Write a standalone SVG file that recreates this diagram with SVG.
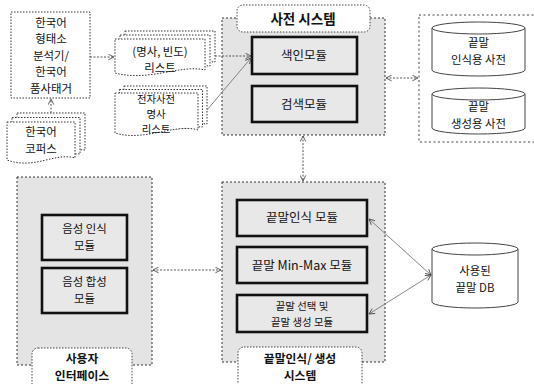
<svg xmlns="http://www.w3.org/2000/svg" width="534" height="384" viewBox="0 0 534 384">
<defs>
<style>
text{font-family:"Noto Sans CJK KR","Noto Sans",sans-serif;font-size:12.5px;fill:#111;text-anchor:middle}
.s{font-size:11.4px}
.xs{font-size:10.4px}
.b{font-weight:bold;font-size:13.5px}
.bs{font-weight:bold;font-size:11.8px}
.dot{fill:#fff;stroke:#333;stroke-width:1;stroke-dasharray:1.5 1.5}
.cont{fill:#e4e4e4;stroke:#333;stroke-width:1;stroke-dasharray:2 2}
.title{fill:#fff;stroke:#444;stroke-width:1;stroke-dasharray:1.5 1.5}
.mod{fill:#e8e8e8;stroke:#111;stroke-width:2.6}
.cyl{fill:#fff;stroke:#444;stroke-width:1}
.ln{fill:none;stroke:#555;stroke-width:1;stroke-dasharray:2 1.5}
.sl{fill:none;stroke:#777;stroke-width:0.9}
</style>
<marker id="ah" viewBox="0 0 10 10" refX="9" refY="5" markerWidth="7" markerHeight="7" orient="auto-start-reverse" markerUnits="userSpaceOnUse">
<path d="M1,1 L9,5 L1,9" fill="none" stroke="#444" stroke-width="1.2"/>
</marker>
</defs>
<rect width="534" height="384" fill="#fff"/>

<g id="analyzer">
<rect x="11" y="12" width="79" height="86" class="dot"/>
<text x="51" y="26.5" class="s">한국어</text>
<text x="51" y="43" class="s">형태소</text>
<text x="51" y="59.5" class="s">분석기/</text>
<text x="51" y="76" class="s">한국어</text>
<text x="51" y="92.5" class="s">품사태거</text>
</g>

<g id="corpus">
<path d="M17,113 H85 V150 C78,149 79,152 17,152 Z" class="dot"/>
<path d="M12,117.5 H80 V154 C73,153 74,157 12,157 Z" class="dot"/>
<path d="M7,122 H75 V158 C55,152 35,170 7,160 Z" class="dot"/>
<text x="41" y="136" class="s">한국어</text>
<text x="41" y="153" class="s">코퍼스</text>
</g>

<g id="freqlist">
<path d="M125,31 H215 V62 C208,61 209,64 125,64 Z" class="dot"/>
<path d="M120,35 H210 V66 C203,65 204,69 120,69 Z" class="dot"/>
<path d="M115,39 H205 V70 C180,64 150,82 115,73 Z" class="dot"/>
<text x="160" y="55.5" class="s">(명사, 빈도)</text>
<text x="160" y="72" class="s">리스트</text>
</g>

<g id="nounlist">
<path d="M124,86 H207 V124 C200,123 201,126 124,126 Z" class="dot"/>
<path d="M119.5,89.5 H202.5 V127 C195,126 196,130 119.5,130 Z" class="dot"/>
<path d="M115,93 H198 V130 C175,123 145,142 115,133 Z" class="dot"/>
<text x="156" y="102.5" class="xs">전자사전</text>
<text x="156" y="117.8" class="xs">명사</text>
<text x="156" y="133" class="xs">리스트</text>
</g>

<g id="dict-system">
<rect x="222" y="18" width="163" height="117" class="cont"/>
<rect x="237" y="5" width="133" height="27" rx="6" class="title"/>
<text x="303" y="24" class="b">사전 시스템</text>
<g id="index-module">
<rect x="252" y="37" width="105" height="37" class="mod"/>
<text x="304" y="60">색인모듈</text>
</g>
<g id="search-module">
<rect x="252" y="86" width="105" height="36" class="mod"/>
<text x="304" y="109">검색모듈</text>
</g>
</g>

<g id="dictionaries">
<rect x="419" y="15" width="118" height="127" fill="#fff" stroke="#444" stroke-width="1" stroke-dasharray="2 2.5"/>
<g id="recog-dict">
<path d="M432,28 V70 A46.5,6 0 0 0 525,70 V28" class="cyl"/>
<ellipse cx="478.5" cy="28" rx="46.5" ry="6" class="cyl"/>
<text x="478.5" y="47" class="s">끝말</text>
<text x="478.5" y="64" class="s">인식용 사전</text>
</g>
<g id="gen-dict">
<path d="M432,94 V128 A46.5,6 0 0 0 525,128 V94" class="cyl"/>
<ellipse cx="478.5" cy="94" rx="46.5" ry="6" class="cyl"/>
<text x="478.5" y="111" class="s">끝말</text>
<text x="478.5" y="128" class="s">생성용 사전</text>
</g>
</g>

<g id="user-interface">
<rect x="17" y="177" width="135" height="188" class="cont"/>
<rect x="32" y="348" width="100" height="44" rx="6" class="title"/>
<text x="82" y="363" class="bs">사용자</text>
<text x="82" y="380" class="bs">인터페이스</text>
<g id="speech-recog">
<rect x="42" y="215" width="85" height="45" class="mod"/>
<text x="84.5" y="233" class="s">음성 인식</text>
<text x="84.5" y="250" class="s">모듈</text>
</g>
<g id="speech-synth">
<rect x="42" y="268" width="85" height="45" class="mod"/>
<text x="84.5" y="286" class="s">음성 합성</text>
<text x="84.5" y="303" class="s">모듈</text>
</g>
</g>

<g id="ending-system">
<rect x="222" y="182" width="163" height="180" class="cont"/>
<rect x="238" y="347" width="124" height="45" rx="6" class="title"/>
<text x="300" y="363" class="bs">끝말인식/ 생성</text>
<text x="300" y="380" class="bs">시스템</text>
<g id="ending-recog">
<rect x="237" y="200" width="130" height="36" class="mod"/>
<text x="302" y="222">끝말인식 모듈</text>
</g>
<g id="minmax">
<rect x="237" y="247" width="130" height="36" class="mod"/>
<text x="302" y="270">끝말 Min-Max 모듈</text>
</g>
<g id="select-gen">
<rect x="237" y="295" width="130" height="37" class="mod"/>
<text x="302" y="309.5" class="xs">끝말 선택 및</text>
<text x="302" y="325.5" class="xs">끝말 생성 모듈</text>
</g>
</g>

<g id="used-db">
<path d="M432,249 V302 A43,6 0 0 0 518,302 V249" class="cyl"/>
<ellipse cx="475" cy="249" rx="43" ry="6" class="cyl"/>
<text x="475" y="275" class="s">사용된</text>
<text x="475" y="292" class="s">끝말 DB</text>
</g>

<g id="connectors">
<line x1="51" y1="113" x2="51" y2="99" class="ln" marker-end="url(#ah)"/>
<line x1="90" y1="57" x2="114" y2="57" class="ln" marker-end="url(#ah)"/>
<line x1="215" y1="56" x2="251" y2="56" class="ln" marker-end="url(#ah)"/>
<line x1="207" y1="110" x2="251" y2="58" class="sl" marker-end="url(#ah)"/>
<line x1="386" y1="78" x2="418" y2="78" class="ln" marker-start="url(#ah)" marker-end="url(#ah)"/>
<line x1="303" y1="136" x2="303" y2="181" class="ln" marker-start="url(#ah)" marker-end="url(#ah)"/>
<line x1="153" y1="270" x2="221" y2="270" class="ln" marker-start="url(#ah)" marker-end="url(#ah)"/>
<line x1="369" y1="219" x2="431" y2="275" class="sl" marker-start="url(#ah)" marker-end="url(#ah)"/>
<line x1="369" y1="314" x2="431" y2="275" class="sl" marker-start="url(#ah)" marker-end="url(#ah)"/>
</g>
</svg>
